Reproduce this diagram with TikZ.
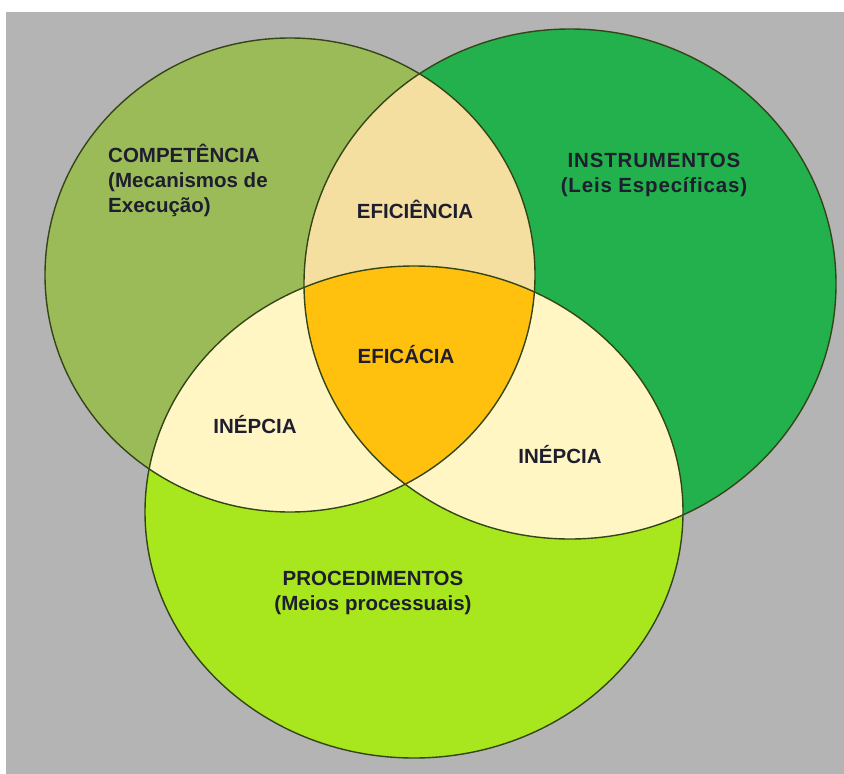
\documentclass[tikz,border=0pt]{standalone}
\usepackage{fontspec}
\setmainfont{Liberation Sans}
\newfontfamily\spacedfont[LetterSpace=4]{Liberation Sans}
\definecolor{bggray}{RGB}{180,180,180}
\definecolor{colL}{RGB}{155,187,89}
\definecolor{colR}{RGB}{34,177,76}
\definecolor{colB}{RGB}{168,230,29}
\definecolor{colLR}{RGB}{245,223,160}
\definecolor{colInep}{RGB}{255,246,196}
\definecolor{colCore}{RGB}{255,192,14}
\definecolor{outl}{RGB}{52,70,24}
\definecolor{txt}{RGB}{30,30,46}
\begin{document}
\begin{tikzpicture}[x=1pt,y=-1pt,
  Lshape/.style={insert path={(290,275) ellipse [x radius=245, y radius=237]}},
  Rshape/.style={insert path={(570,284) ellipse [x radius=266, y radius=255]}},
  Bshape/.style={insert path={(414,512) ellipse [x radius=269, y radius=246]}},
  rim/.style={draw=outl, line width=1.4pt},
  lbl/.style={font=\bfseries\fontsize{20.5}{25}\selectfont, text=txt, inner sep=0pt}]
\useasboundingbox (0,0) rectangle (844,774);
\fill[white] (0,0) rectangle (844,774);
\fill[bggray] (6,12) rectangle (844,774);
% base sets
\fill[colL, Lshape];
\fill[colR, Rshape];
\fill[colB, Bshape];
% pairwise intersections
\begin{scope}
  \clip[Lshape];
  \fill[colLR, Rshape];
\end{scope}
\begin{scope}
  \clip[Lshape];
  \fill[colInep, Bshape];
\end{scope}
\begin{scope}
  \clip[Rshape];
  \fill[colInep, Bshape];
\end{scope}
% triple intersection
\begin{scope}
  \clip[Lshape];
  \clip[Rshape];
  \fill[colCore, Bshape];
\end{scope}
% outlines
\path[rim, Lshape];
\path[rim, Rshape];
\path[rim, Bshape];
% labels
\node[lbl, anchor=west, align=left] (comp) at (108,180) {COMPETÊNCIA\\(Mecanismos de\\Execução)};
\node[lbl, align=center] (instr) at (654,175) {{\spacedfont INSTRUMENTOS}\\{\spacedfont (Leis Específicas)}};
\node[lbl] (efic) at (415,209) {EFICIÊNCIA};
\node[lbl] (eficacia) at (406,355) {EFICÁCIA};
\node[lbl] (inepL) at (255,425) {INÉPCIA};
\node[lbl] (inepR) at (560,455) {INÉPCIA};
\node[lbl, align=center] (proc) at (373,593) {PROCEDIMENTOS\\(Meios processuais)};
\end{tikzpicture}
\end{document}
